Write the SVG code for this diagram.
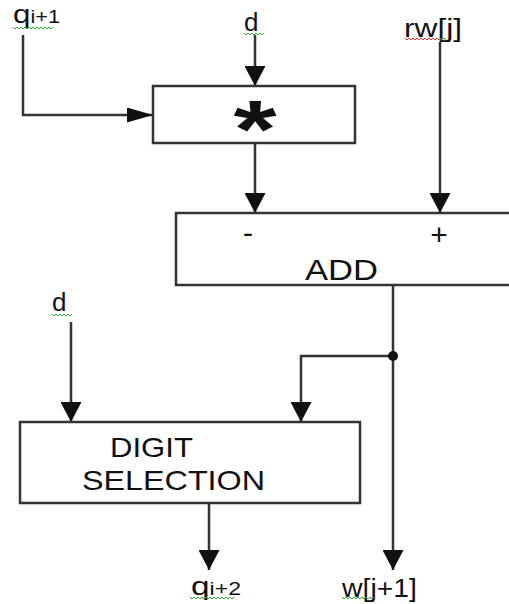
<svg xmlns="http://www.w3.org/2000/svg" width="509" height="604" viewBox="0 0 509 604">
<style>
.box{fill:#fff;stroke:#333;stroke-width:2.5}
.ln{fill:none;stroke:#333;stroke-width:2.5}
.t{font-family:"Liberation Sans",Arial,sans-serif;fill:#111}
.sq{fill:none;stroke-width:1}
</style>
<defs>
<marker id="av" markerUnits="userSpaceOnUse" viewBox="0 0 20 21" refX="20" refY="10.5" markerWidth="20" markerHeight="21" orient="auto">
<path d="M0,0 L20,10.5 L0,21 z" fill="#111"/>
</marker>
<marker id="ah" markerUnits="userSpaceOnUse" viewBox="0 0 26 15" refX="26" refY="7.5" markerWidth="26" markerHeight="15" orient="auto">
<path d="M0,0 L26,7.5 L0,15 z" fill="#111"/>
</marker>
</defs>
<rect width="509" height="604" fill="#fff"/>
<g id="connectors">
<path class="ln" d="M23,35 V115 H153" marker-end="url(#ah)"/>
<path class="ln" d="M255,35 V86" marker-end="url(#av)"/>
<path class="ln" d="M440,42 V213" marker-end="url(#av)"/>
<path class="ln" d="M255,143 V213" marker-end="url(#av)"/>
<path class="ln" d="M393,285 V570" marker-end="url(#av)"/>
<path class="ln" d="M393,356 H301 V422" marker-end="url(#av)"/>
<path class="ln" d="M71,322 V422" marker-end="url(#av)"/>
<path class="ln" d="M209,503 V570" marker-end="url(#av)"/>
<circle cx="393" cy="356" r="5" fill="#111"/>
</g>
<g id="mult">
<rect class="box" x="153" y="86" width="202" height="57"/>
<text class="t" x="255" y="157" font-size="82" font-weight="bold" text-anchor="middle" transform="translate(255,0) scale(1.35,1) translate(-255,0)">*</text>
</g>
<g id="add">
<rect class="box" x="176" y="213" width="340" height="72"/>
<text class="t" x="248" y="243" font-size="30" text-anchor="middle">-</text>
<text class="t" x="439" y="245" font-size="30" text-anchor="middle">+</text>
<text class="t" x="305" y="280" font-size="30" textLength="73" lengthAdjust="spacingAndGlyphs">ADD</text>
</g>
<g id="digitsel">
<rect class="box" x="20" y="422" width="340" height="81"/>
<text class="t" x="110" y="457" font-size="28" textLength="83" lengthAdjust="spacingAndGlyphs">DIGIT</text>
<text class="t" x="82" y="490" font-size="28" textLength="183" lengthAdjust="spacingAndGlyphs">SELECTION</text>
</g>
<g id="labels">
<text class="t" x="13" y="23" font-size="26" textLength="47" lengthAdjust="spacingAndGlyphs">q<tspan font-size="18">i+1</tspan></text>
<text class="t" x="244" y="31" font-size="26">d</text>
<text class="t" x="404" y="37" font-size="25" textLength="58" lengthAdjust="spacingAndGlyphs">rw[j]</text>
<text class="t" x="52" y="311" font-size="26">d</text>
<text class="t" x="191" y="595" font-size="26" textLength="50" lengthAdjust="spacingAndGlyphs">q<tspan font-size="18">i+2</tspan></text>
<text class="t" x="342" y="597" font-size="26" textLength="75" lengthAdjust="spacingAndGlyphs">w[j+1]</text>
</g>
<g id="spellmarks">
<path class="sq" stroke="#3a3" d="M13,27 l2,2 l2,-2 l2,2 l2,-2 l2,2 l2,-2 l2,2 l2,-2 l2,2 l2,-2 l2,2 l2,-2 l2,2 l2,-2 l2,2 l2,-2 l2,2 l2,-2 l2,2 l2,-2"/>
<path class="sq" stroke="#3a3" d="M244,33 l2,2 l2,-2 l2,2 l2,-2 l2,2 l2,-2 l2,2 l2,-2 l2,2 l2,-2"/>
<path class="sq" stroke="#e33" d="M405,38 l2,2 l2,-2 l2,2 l2,-2 l2,2 l2,-2 l2,2 l2,-2 l2,2 l2,-2 l2,2 l2,-2 l2,2 l2,-2 l2,2 l2,-2 l2,2 l2,-2"/>
<path class="sq" stroke="#3a3" d="M440,38 l2,2 l2,-2 l2,2"/>
<path class="sq" stroke="#3a3" d="M52,314 l2,2 l2,-2 l2,2 l2,-2 l2,2 l2,-2 l2,2 l2,-2 l2,2 l2,-2"/>
<path class="sq" stroke="#3a3" d="M190,597 l2,2 l2,-2 l2,2 l2,-2 l2,2 l2,-2 l2,2 l2,-2 l2,2 l2,-2 l2,2 l2,-2 l2,2 l2,-2 l2,2 l2,-2 l2,2 l2,-2 l2,2 l2,-2 l2,2 l2,-2"/>
<path class="sq" stroke="#3a3" d="M342,597 l2,2 l2,-2 l2,2 l2,-2 l2,2 l2,-2 l2,2 l2,-2 l2,2 l2,-2 l2,2 l2,-2 l2,2 l2,-2 l2,2 l2,-2"/>
</g>
</svg>
